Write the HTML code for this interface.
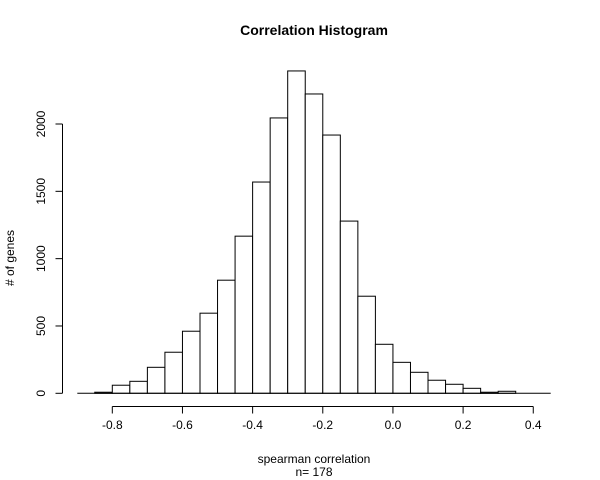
<!DOCTYPE html>
<html><head><meta charset="utf-8"><style>
html,body{margin:0;padding:0;background:#fff}
svg{display:block;font-family:"Liberation Sans",Arial,sans-serif}
</style></head><body>
<svg id="chart" width="600" height="480">
<text x="314" y="35" text-anchor="middle" font-weight="bold" font-size="14">Correlation Histogram</text>
<text x="314" y="463" text-anchor="middle" font-size="12">spearman correlation</text>
<text x="314" y="476" text-anchor="middle" font-size="12">n= 178</text>
<text transform="translate(14,258) rotate(-90)" text-anchor="middle" font-size="12"># of genes</text>
<g id="bars"></g>
<g id="axes"></g>
</svg>
<script>
const binStarts = [-0.85,-0.8,-0.75,-0.7,-0.65,-0.6,-0.55,-0.5,-0.45,-0.4,-0.35,-0.3,-0.25,-0.2,-0.15,-0.1,-0.05,0,0.05,0.1,0.15,0.2,0.25,0.3];
const counts = [8,60,89,193,305,461,595,840,1167,1569,2045,2394,2223,1918,1279,721,364,230,156,97,67,37,8,15];
const binWidth = 0.05;
const xTicks = [-0.8,-0.6,-0.4,-0.2,0,0.2,0.4];
const xTickLabels = ["-0.8","-0.6","-0.4","-0.2","0.0","0.2","0.4"];
const yTicks = [0,500,1000,1500,2000];
const yTickLabels = ["0","500","1000","1500","2000"];

const NS = "http://www.w3.org/2000/svg";
const xs = v => 112.3 + (v + 0.8) * 350.8;
const ys = v => 393.3 - v * 0.13465;
function mk(tag, attrs, parent){const e=document.createElementNS(NS,tag);for(const k in attrs)e.setAttribute(k,attrs[k]);parent.appendChild(e);return e;}
const bars = document.getElementById('bars');
const axes = document.getElementById('axes');

for (let i=0;i<counts.length;i++){
  const x0=xs(binStarts[i]), x1=xs(binStarts[i]+binWidth), y=ys(counts[i]);
  const r=mk('rect',{x:x0,y:y,width:x1-x0,height:ys(0)-y,fill:'#fff',stroke:'#000','stroke-width':1},bars);
  
  
}
const base=mk('line',{x1:77.3,x2:550.7,y1:ys(0),y2:ys(0),stroke:'#000','stroke-width':1},bars);



const xa=mk('line',{x1:xs(xTicks[0]),x2:xs(xTicks[xTicks.length-1]),y1:406.5,y2:406.5,stroke:'#000'},axes);


xTicks.forEach((t,i)=>{
  mk('line',{x1:xs(t),x2:xs(t),y1:406.5,y2:413.5,stroke:'#000'},axes);
  const l=mk('text',{x:xs(t),y:429,'text-anchor':'middle','font-size':12},axes);
  l.textContent=xTickLabels[i];
  
  
});
const ya=mk('line',{x1:62.5,x2:62.5,y1:ys(yTicks[0]),y2:ys(yTicks[yTicks.length-1]),stroke:'#000'},axes);


yTicks.forEach((t,i)=>{
  mk('line',{x1:55.5,x2:62.5,y1:ys(t),y2:ys(t),stroke:'#000'},axes);
  const l=mk('text',{transform:`translate(45,${ys(t)}) rotate(-90)`,'text-anchor':'middle','font-size':12},axes);
  l.textContent=yTickLabels[i];
  
  
});
</script>
</body></html>
